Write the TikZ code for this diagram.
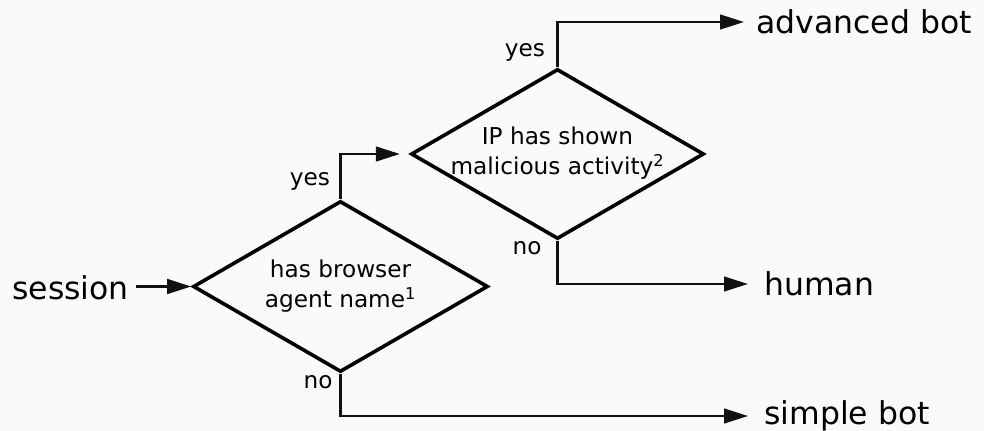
\documentclass[tikz,border=0pt]{standalone}
\usepackage{fontspec}
\setmainfont{DejaVu Sans}
\usetikzlibrary{shapes.geometric,arrows.meta}
\definecolor{bg}{HTML}{FAFAFA}
\definecolor{ink}{HTML}{111111}
\begin{document}
\begin{tikzpicture}[x=0.75pt,y=-0.75pt,
  decision/.style={diamond,draw=black,line width=2.7pt,inner sep=-6pt,aspect=1.72,
    align=center,font=\fontsize{17.4pt}{22.5pt}\selectfont},
  outlabel/.style={inner sep=0pt,font=\fontsize{23.6pt}{28pt}\selectfont},
  smalllabel/.style={inner sep=0pt,font=\fontsize{17.4pt}{21pt}\selectfont},
  conn/.style={draw=ink,line width=1.8pt,-{Triangle[length=18pt,width=11pt]}}]
\fill[bg] (0,0) rectangle (984,431);
\useasboundingbox (0,0) rectangle (984,431);
% decisions
\node[decision,minimum width=221.25pt,minimum height=128.25pt] (d1) at (340.5,286.5)
  {has browser\\agent name\textsuperscript{1}};
\node[decision,minimum width=219.75pt,minimum height=127.5pt] (d2) at (557.5,154)
  {\raisebox{4.5pt}{IP has shown}\\\raisebox{4.5pt}{malicious activity\textsuperscript{2}}};
% terminals
\node[outlabel,anchor=east] (session) at (129,288) {session};
\node[outlabel,anchor=west] (adv) at (756,22) {advanced bot};
\node[outlabel,anchor=west] (human) at (764,284) {human};
\node[outlabel,anchor=west] (simple) at (764,416) {simple bot};
% yes / no labels
\node[smalllabel] (y1) at (310,181) {yes};
\node[smalllabel] (n1) at (318,382) {no};
\node[smalllabel] (y2) at (525,52) {yes};
\node[smalllabel] (n2) at (527,248) {no};
% connectors
\draw[conn,shorten <=5pt] (d1.west -| session.east) -- (d1.west);
\draw[conn,shorten >=7pt] (d1.north) |- (d2.west);
\draw[conn,shorten >=9pt] (d2.north) |- (adv.west);
\draw[conn,shorten >=12pt] (d2.south) |- (human.west);
\draw[conn,shorten >=12pt] (d1.south) |- (simple.west);
\end{tikzpicture}
\end{document}
